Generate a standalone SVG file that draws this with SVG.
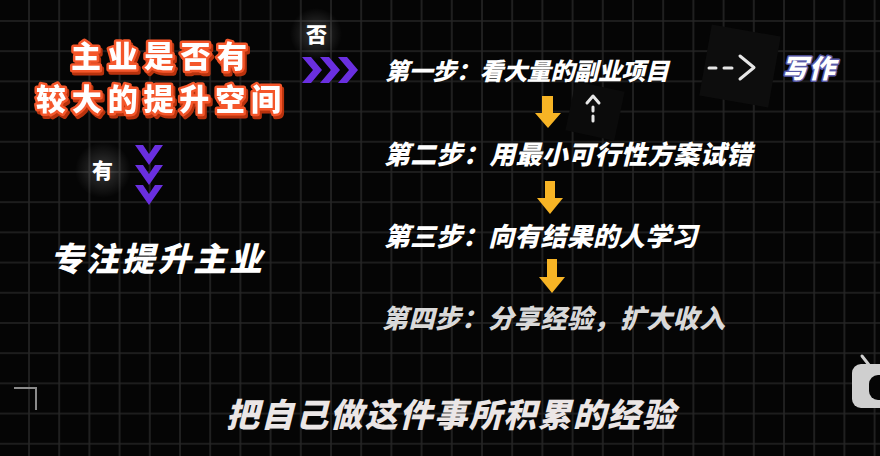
<svg xmlns="http://www.w3.org/2000/svg" width="880" height="456" viewBox="0 0 880 456">
  <defs>
    <pattern id="grid" patternUnits="userSpaceOnUse" x="28" y="20" width="30.2" height="30.2">
      <path d="M0 1 H30.2 M1 0 V30.2" stroke="#252525" stroke-width="1.6" fill="none"/>
    </pattern>
    <radialGradient id="glow" cx="0.5" cy="0.5" r="0.5">
      <stop offset="0" stop-color="#ffffff" stop-opacity="0.2"/>
      <stop offset="1" stop-color="#ffffff" stop-opacity="0"/>
    </radialGradient>
    <filter id="shadow3d" x="-10%" y="-20%" width="120%" height="150%">
      <feDropShadow dx="2" dy="3" stdDeviation="0" flood-color="#b8300f" flood-opacity="1"/>
    </filter>
    <style>
      .cjk { font-family: "Noto Sans CJK SC", "Noto Sans", sans-serif; font-weight: 900; }
      .title { font-size: 30px; fill: #ffffff; stroke: #f4562a; stroke-width: 5; paint-order: stroke; stroke-linejoin: round; filter: url(#shadow3d); }
      .step { font-size: 26px; fill: #ffffff; font-style: italic; }
      .big { font-size: 33px; fill: #ffffff; font-style: italic; }
      .lbl { font-size: 21px; fill: #ffffff; }
      .chev { fill: #6a2fe0; }
      .yarrow { fill: #f7b425; }
      .dash { stroke: #e6e6e6; stroke-width: 3; fill: none; stroke-linecap: round; stroke-linejoin: round; }
    </style>
  </defs>

  <rect width="880" height="456" fill="#050505"/>
  <rect width="880" height="456" fill="url(#grid)"/>

  <!-- faint rotated squares -->
  <rect x="705" y="30" width="70" height="72" fill="#0d0d0d" transform="rotate(10 740 66)"/>
  <rect x="570" y="86" width="50" height="50" fill="#0b0b0b" transform="rotate(12 595 111)"/>

  <!-- corner bracket -->
  <path d="M14 388 H36 V410" stroke="#8a8a8a" stroke-width="2" fill="none"/>

  <!-- partial logo at right edge -->
  <g id="logo">
    <path d="M862 356 L869 365" stroke="#cfcfcf" stroke-width="3" stroke-linecap="round"/>
    <rect x="852" y="364" width="50" height="44" rx="9" fill="#cfcfcf"/>
    <rect x="869" y="375" width="30" height="25" rx="9" fill="#050505"/>
  </g>

  <g id="connectors">
    <g id="chev-right">
      <polygon class="chev" points="302,57 311,57 322,70 311,83 302,83 313,70"/>
      <polygon class="chev" points="320,57 329,57 340,70 329,83 320,83 331,70"/>
      <polygon class="chev" points="338,57 347,57 358,70 347,83 338,83 349,70"/>
    </g>
    <g id="chev-down">
      <polygon class="chev" points="135,145 143,145 149,154 155,145 163,145 149,165"/>
      <polygon class="chev" points="135,165 143,165 149,174 155,165 163,165 149,185"/>
      <polygon class="chev" points="135,185 143,185 149,194 155,185 163,185 149,205"/>
    </g>
    <polygon class="yarrow" points="542,96 553,96 553,113 561,113 548,128 535,113 542,113"/>
    <polygon class="yarrow" points="545,181 555,181 555,198 563,198 550,214 537,198 545,198"/>
    <polygon class="yarrow" points="547,259 557,259 557,277 565,277 552,293 539,277 547,277"/>
    <path class="dash" d="M587 103 L593 96 L599 103"/>
    <path class="dash" d="M593 107 V111 M593 116 V121"/>
    <path class="dash" d="M709 68 H716 M724 68 H732"/>
    <path class="dash" d="M740 56 L754 67.5 L740 79"/>
  </g>

  <g id="node-question">
    <text class="cjk title" x="71" y="67" textLength="176" lengthAdjust="spacing">主业是否有</text>
    <text class="cjk title" x="36" y="109.5" textLength="245" lengthAdjust="spacing">较大的提升空间</text>
  </g>

  <g id="label-no">
    <circle cx="316" cy="34" r="26" fill="url(#glow)"/>
    <text class="cjk lbl" x="306" y="42">否</text>
  </g>

  <g id="label-yes">
    <circle cx="103" cy="170" r="28" fill="url(#glow)"/>
    <text class="cjk lbl" x="92" y="178">有</text>
  </g>

  <g id="node-focus">
    <text class="cjk big" x="50" y="271" textLength="212" lengthAdjust="spacing">专注提升主业</text>
  </g>

  <g id="node-step1">
    <text class="cjk step" x="385" y="80" textLength="284" lengthAdjust="spacing" style="font-size:24px">第一步：看大量的副业项目</text>
  </g>
  <g id="node-step2">
    <text class="cjk step" x="384" y="164" textLength="368" lengthAdjust="spacing">第二步：用最小可行性方案试错</text>
  </g>
  <g id="node-step3">
    <text class="cjk step" x="384" y="246" textLength="313" lengthAdjust="spacing">第三步：向有结果的人学习</text>
  </g>
  <g id="node-step4">
    <text class="cjk step" x="382" y="328" textLength="343" lengthAdjust="spacing" style="fill:#d9d9d9">第四步：分享经验，扩大收入</text>
  </g>

  <g id="node-writing">
    <text class="cjk" x="782" y="78" textLength="53" lengthAdjust="spacing" style="font-size:26px;font-style:italic;fill:#ffffff;stroke:#5a5aa8;stroke-width:3;paint-order:stroke;stroke-linejoin:round">写作</text>
  </g>

  <g id="subtitle">
    <text class="cjk" x="226" y="427" textLength="449" lengthAdjust="spacing" style="font-size:33px;font-style:italic;fill:#ebe6e6">把自己做这件事所积累的经验</text>
  </g>
</svg>
